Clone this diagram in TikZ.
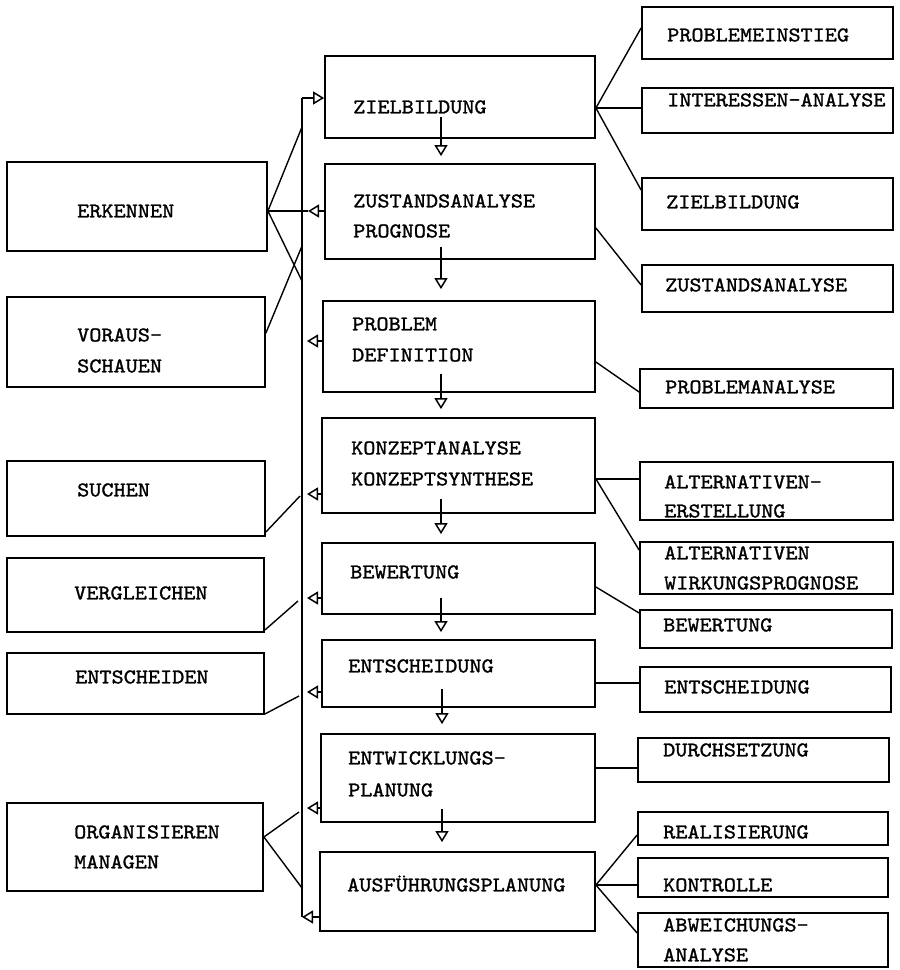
\documentclass[tikz,border=0pt]{standalone}
\usepackage{fontspec}
\newfontfamily\typewriter[FakeStretch=1.1,FakeBold=1.3]{lmmono10-regular.otf}
\usetikzlibrary{arrows.meta}

% box from (x1,y1) to (x2,y2), y measured downwards
\newcommand\boxnode[5]{\node[box, minimum width={(#4-#2)*1pt}, minimum height={(#5-#3)*1pt}] (#1) at ({(#2+#4)/2},{(#3+#5)/2}) {};}
% one line of text, left edge x, vertical middle of the capitals y
\newcommand\labeltext[4]{\node[lbl] (#1) at (#2,{#3+6.4}) {#4};}

\begin{document}
\begin{tikzpicture}[x=1pt,y=-1pt,
  box/.style={draw, line width=1.8pt, inner sep=0pt},
  lbl/.style={anchor=base west, inner sep=0pt, font=\typewriter\fontsize{21}{30}\selectfont},
  link/.style={line width=1.4pt},
  opentip/.style={line width=1.5pt, -{Triangle[open, length=11pt, width=13pt]}},
]
\useasboundingbox (0,0) rectangle (900,970);

% ---- left column: activities
\boxnode{erk}{7}{162}{267}{251}
\boxnode{vor}{7}{297}{265}{387}
\boxnode{such}{7}{461}{265}{536}
\boxnode{verg}{7}{558}{264}{632}
\boxnode{ents}{7}{653}{264}{714}
\boxnode{org}{7}{803}{263}{891}

\labeltext{erk-t}{77}{211}{ERKENNEN}
\labeltext{vor-t1}{77}{335}{VORAUS-}
\labeltext{vor-t2}{77}{366}{SCHAUEN}
\labeltext{such-t}{77}{490}{SUCHEN}
\labeltext{verg-t}{74}{593}{VERGLEICHEN}
\labeltext{ents-t}{75}{677}{ENTSCHEIDEN}
\labeltext{org-t1}{74}{832}{ORGANISIEREN}
\labeltext{org-t2}{74}{862}{MANAGEN}

% ---- middle column: planning phases
\boxnode{zb}{325}{56}{595}{138}
\boxnode{zs}{325}{164}{595}{259}
\boxnode{pd}{323}{301}{595}{392}
\boxnode{ka}{322}{418}{595}{513}
\boxnode{bw}{322}{543}{595}{614}
\boxnode{en}{322}{640}{595}{707}
\boxnode{ew}{321}{734}{595}{822}
\boxnode{af}{320}{852}{595}{931}

\labeltext{zb-t}{353}{107}{ZIELBILDUNG}
\labeltext{zs-t1}{353}{201}{ZUSTANDSANALYSE}
\labeltext{zs-t2}{353}{231}{PROGNOSE}
\labeltext{pd-t1}{352}{324}{PROBLEM}
\labeltext{pd-t2}{352}{355}{DEFINITION}
\labeltext{ka-t1}{351}{448}{KONZEPTANALYSE}
\labeltext{ka-t2}{351}{479}{KONZEPTSYNTHESE}
\labeltext{bw-t}{350}{572}{BEWERTUNG}
\labeltext{en-t}{348}{666}{ENTSCHEIDUNG}
\labeltext{ew-t1}{348}{758}{ENTWICKLUNGS-}
\labeltext{ew-t2}{348}{790}{PLANUNG}
\labeltext{af-t}{347}{885}{AUSFÜHRUNGSPLANUNG}

% ---- right column: working steps
\boxnode{rpe}{642}{7}{893}{59}
\boxnode{ria}{642}{88}{893}{133}
\boxnode{rzb}{642}{178}{893}{230}
\boxnode{rzs}{642}{265}{893}{312}
\boxnode{rpa}{640}{369}{893}{408}
\boxnode{rae}{640}{462}{893}{520}
\boxnode{raw}{640}{542}{893}{594}
\boxnode{rbw}{640}{610}{892}{648}
\boxnode{ren}{640}{667}{891}{712}
\boxnode{rdu}{638}{738}{889}{782}
\boxnode{rre}{638}{812}{888}{845}
\boxnode{rko}{638}{858}{888}{897}
\boxnode{rab}{638}{913}{888}{967}

\labeltext{rpe-t}{667}{35}{PROBLEMEINSTIEG}
\labeltext{ria-t}{667}{100}{INTERESSEN-ANALYSE}
\labeltext{rzb-t}{666}{202}{ZIELBILDUNG}
\labeltext{rzs-t}{665}{285}{ZUSTANDSANALYSE}
\labeltext{rpa-t}{665}{387}{PROBLEMANALYSE}
\labeltext{rae-t1}{664}{482}{ALTERNATIVEN-}
\labeltext{rae-t2}{664}{511}{ERSTELLUNG}
\labeltext{raw-t1}{664}{553}{ALTERNATIVEN}
\labeltext{raw-t2}{664}{583}{WIRKUNGSPROGNOSE}
\labeltext{rbw-t}{663}{625}{BEWERTUNG}
\labeltext{ren-t}{664}{687}{ENTSCHEIDUNG}
\labeltext{rdu-t}{663}{750}{DURCHSETZUNG}
\labeltext{rre-t}{663}{832}{REALISIERUNG}
\labeltext{rko-t}{663}{885}{KONTROLLE}
\labeltext{rab-t1}{663}{925}{ABWEICHUNGS-}
\labeltext{rab-t2}{663}{955}{ANALYSE}

% ---- vertical feedback bus
\coordinate (bustop) at (302,98);
\coordinate (busbot) at (302,917);
\draw[link] (bustop) -- (busbot);
\draw[opentip] (bustop) -- (zb.west |- bustop);

% phases report back to the bus
\draw[opentip] (zs.west |- 0,211) -- ([xshift=6pt]bustop |- 0,211);
\draw[opentip] (pd.west |- 0,341) -- ([xshift=5pt]bustop |- 0,341);
\draw[opentip] (ka.west |- 0,494) -- ([xshift=5pt]bustop |- 0,494);
\draw[opentip] (bw.west |- 0,598) -- ([xshift=5pt]bustop |- 0,598);
\draw[opentip] (en.west |- 0,692) -- ([xshift=5pt]bustop |- 0,692);
\draw[opentip] (ew.west |- 0,808) -- ([xshift=5pt]bustop |- 0,808);
\draw[opentip] (af.west |- 0,917) -- (busbot);

% sequence of phases
\draw[opentip] ([yshift=22pt]zb.south -| 441,0) -- ([yshift=7pt]zs.north -| 441,0);
\draw[opentip] ([yshift=13pt]zs.south -| 441,0) -- ([yshift=11pt]pd.north -| 441,0);
\draw[opentip] ([yshift=19pt]pd.south -| 441,0) -- ([yshift=8pt]ka.north -| 441,0);
\draw[opentip] ([yshift=15pt]ka.south -| 441,0) -- ([yshift=8pt]bw.north -| 441,0);
\draw[opentip] ([yshift=17pt]bw.south -| 441,0) -- ([yshift=7pt]en.north -| 441,0);
\draw[opentip] ([yshift=19pt]en.south -| 442,0) -- ([yshift=9pt]ew.north -| 442,0);
\draw[opentip] ([yshift=14pt]ew.south -| 442,0) -- ([yshift=9pt]af.north -| 442,0);

% activities linked to the bus
\draw[link] (erk.east |- 0,211) -- (bustop |- 0,127);
\draw[link] (erk.east |- 0,211) -- ([xshift=6pt]bustop |- 0,211);
\draw[link] (erk.east |- 0,211) -- (bustop |- 0,281);
\draw[link] (vor.east |- 0,333) -- (bustop |- 0,246);
\draw[link] (such.east |- 0,532) -- ([xshift=-2pt]bustop |- 0,496);
\draw[link] (verg.east |- 0,630) -- ([xshift=-4pt]bustop |- 0,601);
\draw[link] (ents.east |- 0,714) -- ([xshift=-3pt]bustop |- 0,696);
\draw[link] (org.east |- 0,837) -- ([xshift=-3pt]bustop |- 0,812);
\draw[link] (org.east |- 0,837) -- (bustop |- 0,888);

% phases linked to working steps
\draw[link] (zb.east |- 0,108) -- (rpe.west |- 0,28);
\draw[link] (zb.east |- 0,108) -- (ria.west |- 0,108);
\draw[link] (zb.east |- 0,108) -- (rzb.west |- 0,190);
\draw[link] (zs.east |- 0,228) -- (rzs.west |- 0,285);
\draw[link] (pd.east |- 0,362) -- (rpa.west |- 0,392);
\draw[link] (ka.east |- 0,479) -- (rae.west |- 0,479);
\draw[link] (ka.east |- 0,479) -- (raw.west |- 0,550);
\draw[link] (bw.east |- 0,587) -- (rbw.west |- 0,613);
\draw[link] (en.east |- 0,683) -- (ren.west |- 0,683);
\draw[link] (ew.east |- 0,768) -- (rdu.west |- 0,768);
\draw[link] (af.east |- 0,885) -- (rre.west |- 0,835);
\draw[link] (af.east |- 0,885) -- (rko.west |- 0,885);
\draw[link] (af.east |- 0,885) -- (rab.west |- 0,933);
\end{tikzpicture}
\end{document}
